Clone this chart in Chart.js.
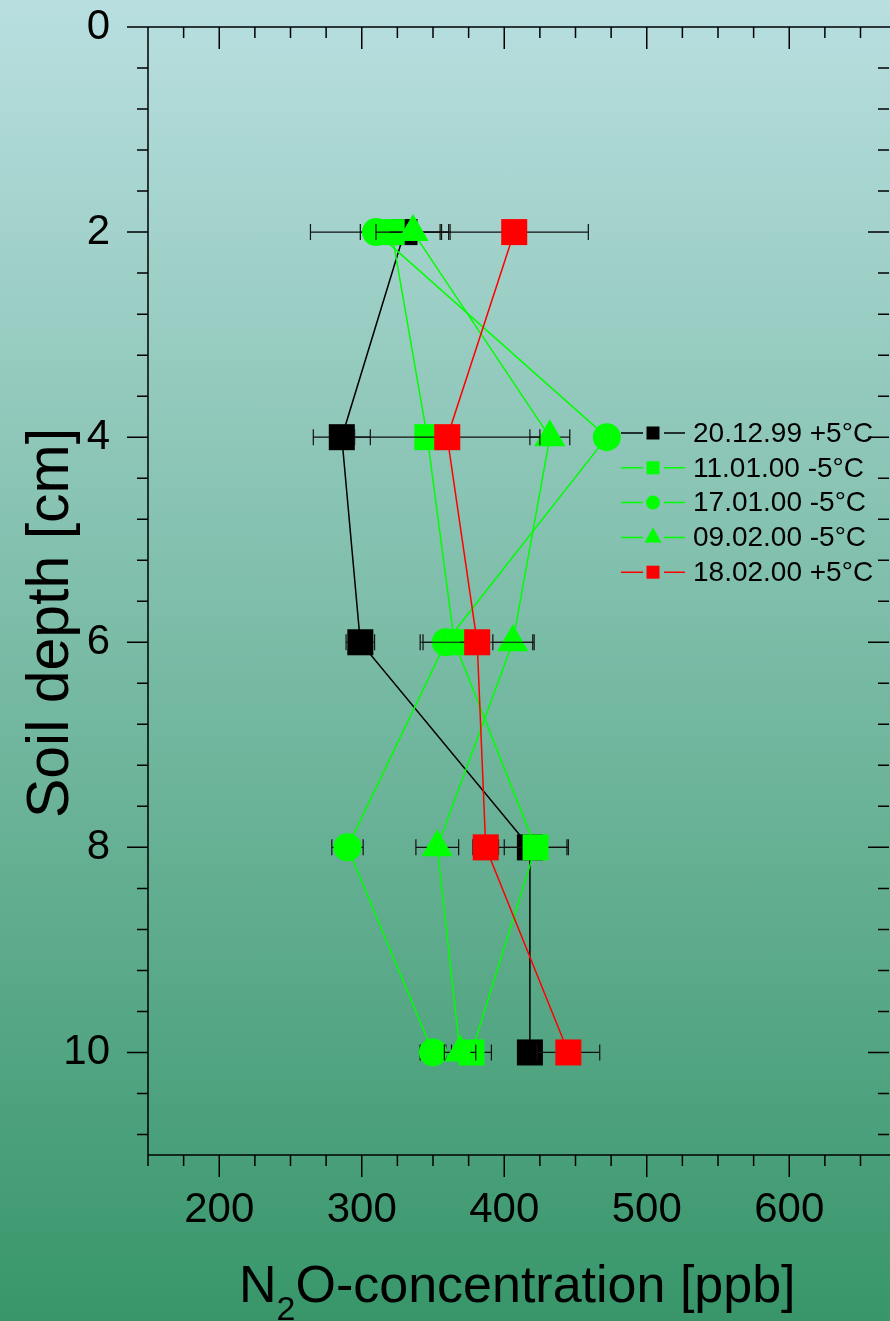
<!DOCTYPE html>
<html>
<head>
<meta charset="utf-8">
<script src="https://cdn.jsdelivr.net/npm/chart.js@4.4.1/dist/chart.umd.min.js"></script>
<style>
  html, body { margin: 0; padding: 0; overflow: hidden; }
  body {
    width: 890px; height: 1321px;
    background: linear-gradient(to bottom, #b9dfe0 0%, #38966a 100%);
  }
  canvas { display: block; }
</style>
</head>
<body>
<canvas id="chart" width="890" height="1321"></canvas>
<script>
// --- data ---
const depths = [2, 4, 6, 8, 10];

const seriesLabels = ['20.12.99 +5°C', '11.01.00 -5°C', '17.01.00 -5°C', '09.02.00 -5°C', '18.02.00 +5°C'];

const conc_201299 = [330, 286, 299, 418, 418];
const conc_110100 = [321, 346, 365, 422, 377];
const conc_170100 = [310, 472, 359, 290, 350];
const conc_090200 = [336, 432, 406, 353, 369];
const conc_180200 = [407, 360, 381, 387, 445];

const err_201299 = [31, 20, 10, 27, 5];
const err_110100 = [10, 6, 12, 22, 14];
const err_170100 = [46, 5, 16, 11, 9];
const err_090200 = [26, 14, 14, 15, 11];
const err_180200 = [52, 65, 40, 9, 22];

const xTicks = [200, 300, 400, 500, 600];
const yTicks = [0, 2, 4, 6, 8, 10];

const X_MIN = 150, X_MAX = 670;
const Y_MIN = 0, Y_MAX = 11;

// --- styles ---
const FONT = '"Liberation Sans", Arial, Helvetica, sans-serif';
const GREEN = '#00ff00', RED = '#ff0000', BLACK = '#000000';

const STYLES = [
    { color: BLACK, shape: 'rect', radius: 18.4 },
    { color: GREEN, shape: 'rect', radius: 18.4 },
    { color: GREEN, shape: 'circle', radius: 14 },
    { color: GREEN, shape: 'triangle', radius: 18 },
    { color: RED, shape: 'rect', radius: 18.4 }
];

const concs = [conc_201299, conc_110100, conc_170100, conc_090200, conc_180200];
const errs = [err_201299, err_110100, err_170100, err_090200, err_180200];

const datasets = concs.map((vals, i) => ({
    label: seriesLabels[i],
    data: depths.map((d, j) => ({ x: vals[j], y: d })),
    errors: errs[i],
    showLine: true,
    borderColor: STYLES[i].color,
    backgroundColor: STYLES[i].color,
    borderWidth: 1.5,
    pointStyle: STYLES[i].shape,
    pointRadius: STYLES[i].radius,
    pointHoverRadius: STYLES[i].radius,
    pointBorderWidth: 0,
    order: concs.length - i
}));

// horizontal error bars, drawn just under each series
const errorBars = {
    id: 'errorBars',
    beforeDatasetDraw(chart, args) {
        const ds = chart.data.datasets[args.index];
        const { ctx } = chart;
        const xs = chart.scales.x, ys = chart.scales.y;
        ctx.save();
        ctx.strokeStyle = '#111';
        ctx.lineWidth = 1.2;
        ds.data.forEach((p, i) => {
            const e = ds.errors[i];
            const y = ys.getPixelForValue(p.y);
            const x0 = xs.getPixelForValue(p.x - e);
            const x1 = xs.getPixelForValue(p.x + e);
            ctx.beginPath();
            ctx.moveTo(x0, y); ctx.lineTo(x1, y);
            ctx.moveTo(x0, y - 8); ctx.lineTo(x0, y + 8);
            ctx.moveTo(x1, y - 8); ctx.lineTo(x1, y + 8);
            ctx.stroke();
        });
        ctx.restore();
    }
};

// box axes with outward ticks left/bottom, inward ticks top/right
const frame = {
    id: 'frame',
    beforeDatasetsDraw(chart) {
        const { ctx, chartArea: a } = chart;
        const xs = chart.scales.x, ys = chart.scales.y;
        ctx.save();
        ctx.strokeStyle = '#000';
        ctx.lineWidth = 1.5;
        ctx.beginPath();
        ctx.moveTo(a.left, a.top); ctx.lineTo(a.left, a.bottom);
        ctx.moveTo(a.left, a.bottom); ctx.lineTo(chart.width, a.bottom);
        ctx.moveTo(a.left, a.top); ctx.lineTo(chart.width, a.top);
        for (let k = 0; k * 0.4 <= Y_MAX + 1e-6; k++) {
            const v = k * 0.4;
            const major = k % 5 === 0;
            const y = ys.getPixelForValue(v);
            const len = major ? 21 : 11;
            ctx.moveTo(a.left - len, y); ctx.lineTo(a.left, y);
            ctx.moveTo(a.right - len, y); ctx.lineTo(a.right, y);
        }
        for (let v = X_MIN; v <= X_MAX; v += 25) {
            const major = v % 100 === 0;
            const x = xs.getPixelForValue(v);
            const len = major ? 22 : 11;
            ctx.moveTo(x, a.bottom); ctx.lineTo(x, a.bottom + len);
            ctx.moveTo(x, a.top); ctx.lineTo(x, a.top + len);
        }
        ctx.stroke();
        ctx.restore();
    },
    afterDraw(chart) {
        const { ctx } = chart;
        ctx.save();
        ctx.fillStyle = '#000';
        // y title
        ctx.save();
        ctx.translate(68, 623);
        ctx.rotate(-Math.PI / 2);
        ctx.font = '59px ' + FONT;
        ctx.textAlign = 'center';
        ctx.textBaseline = 'alphabetic';
        ctx.fillText('Soil depth [cm]', 0, 0);
        ctx.restore();
        // x title with subscript
        ctx.textBaseline = 'alphabetic';
        ctx.textAlign = 'left';
        let x = 239;
        ctx.font = '52px ' + FONT;
        ctx.fillText('N', x, 1302);
        x += ctx.measureText('N').width;
        ctx.font = '34px ' + FONT;
        ctx.fillText('2', x, 1320);
        x += ctx.measureText('2').width;
        ctx.font = '52px ' + FONT;
        ctx.fillText('O-concentration [ppb]', x, 1302);
        // legend
        chart.data.datasets.forEach((ds, i) => {
            const y = 433 + i * 34.8;
            const st = STYLES[i];
            ctx.strokeStyle = st.color;
            ctx.fillStyle = st.color;
            ctx.lineWidth = 1.5;
            ctx.beginPath();
            ctx.moveTo(621, y); ctx.lineTo(643, y);
            ctx.moveTo(664, y); ctx.lineTo(685, y);
            ctx.stroke();
            const cx = 653;
            ctx.beginPath();
            if (st.shape === 'rect') {
                ctx.rect(cx - 6.5, y - 6.5, 13, 13);
            } else if (st.shape === 'circle') {
                ctx.arc(cx, y, 7, 0, Math.PI * 2);
            } else {
                ctx.moveTo(cx, y - 10);
                ctx.lineTo(cx + 8.5, y + 5);
                ctx.lineTo(cx - 8.5, y + 5);
                ctx.closePath();
            }
            ctx.fill();
            ctx.fillStyle = '#000';
            ctx.font = '28px ' + FONT;
            ctx.textBaseline = 'middle';
            ctx.fillText(ds.label, 693, y + 1);
        });
        ctx.restore();
    }
};

new Chart(document.getElementById('chart'), {
    type: 'scatter',
    data: { datasets },
    options: {
        responsive: false,
        animation: false,
        devicePixelRatio: 1,
        layout: { autoPadding: false, padding: { top: 27, right: 1, left: 0, bottom: 0 } },
        plugins: {
            legend: { display: false },
            tooltip: { enabled: false }
        },
        scales: {
            x: {
                type: 'linear', position: 'bottom', min: X_MIN, max: X_MAX,
                afterBuildTicks: s => { s.ticks = xTicks.map(v => ({ value: v })); },
                afterFit: s => { s.height = 166; s.paddingLeft = 0; s.paddingRight = 0; },
                grid: { display: false, drawTicks: true, tickLength: 30 },
                border: { display: false },
                ticks: { padding: 0, color: '#000', font: { family: FONT, size: 42 } }
            },
            y: {
                type: 'linear', position: 'left', reverse: true, min: Y_MIN, max: Y_MAX,
                afterBuildTicks: s => { s.ticks = yTicks.map(v => ({ value: v })); },
                afterFit: s => { s.width = 148; s.paddingTop = 0; s.paddingBottom = 0; },
                grid: { display: false, drawTicks: true, tickLength: 38 },
                border: { display: false },
                ticks: { padding: 0, color: '#000', font: { family: FONT, size: 42 } }
            }
        }
    },
    plugins: [errorBars, frame]
});
</script>
</body>
</html>
